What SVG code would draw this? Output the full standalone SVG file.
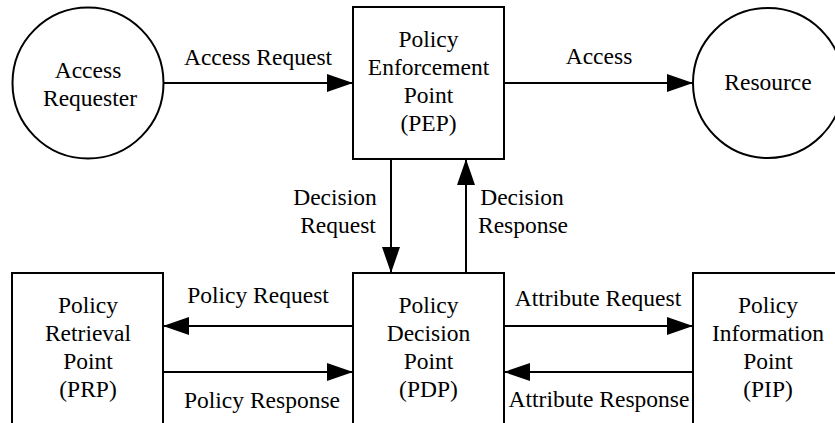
<svg xmlns="http://www.w3.org/2000/svg" width="835" height="423" viewBox="0 0 835 423">
<style>
.n{fill:#fff;stroke:#000;stroke-width:2}
.t{font-size:23.5px;fill:#000;text-anchor:middle}
.c{stroke:#000;stroke-width:2;fill:none;marker-end:url(#ah)}
</style>
<defs>
<marker id="ah" markerUnits="userSpaceOnUse" markerWidth="26" markerHeight="18" refX="26" refY="9" orient="auto">
<path d="M0,0 L26,9 L0,18 z" fill="#000"/>
</marker>
</defs>
<rect width="835" height="423" fill="#fff"/>
<g font-family="Liberation Serif, Tinos, Times New Roman, DejaVu Serif, serif">
<g id="connectors">
<line class="c" x1="163" y1="83" x2="353" y2="83"/>
<line class="c" x1="504" y1="83" x2="693" y2="83"/>
<line class="c" x1="391" y1="159" x2="391" y2="273"/>
<line class="c" x1="466" y1="273" x2="466" y2="159"/>
<line class="c" x1="353" y1="326" x2="163" y2="326"/>
<line class="c" x1="163" y1="372" x2="353" y2="372"/>
<line class="c" x1="504" y1="326" x2="693" y2="326"/>
<line class="c" x1="693" y1="372" x2="504" y2="372"/>
<text class="t" x="258" y="65">Access Request</text>
<text class="t" x="599" y="64">Access</text>
<text class="t" x="335" y="205">Decision</text>
<text class="t" x="338" y="233">Request</text>
<text class="t" x="522" y="205">Decision</text>
<text class="t" x="523" y="233">Response</text>
<text class="t" x="258" y="303">Policy Request</text>
<text class="t" x="262" y="408">Policy Response</text>
<text class="t" x="598" y="306">Attribute Request</text>
<text class="t" x="599" y="407">Attribute Response</text>
</g>
<g id="access-requester">
<circle class="n" cx="88" cy="83" r="75.5"/>
<text class="t" x="88" y="78">Access</text>
<text class="t" x="90" y="106">Requester</text>
</g>
<g id="pep">
<rect class="n" x="353" y="7" width="151" height="152"/>
<text class="t" x="428.5" y="47">Policy</text>
<text class="t" x="428.5" y="75">Enforcement</text>
<text class="t" x="428.5" y="103">Point</text>
<text class="t" x="428.5" y="131">(PEP)</text>
</g>
<g id="resource">
<circle class="n" cx="768" cy="83" r="75"/>
<text class="t" x="768" y="90">Resource</text>
</g>
<g id="prp">
<rect class="n" x="12" y="273" width="151" height="170"/>
<text class="t" x="88" y="313">Policy</text>
<text class="t" x="88" y="341">Retrieval</text>
<text class="t" x="88" y="369">Point</text>
<text class="t" x="88" y="397">(PRP)</text>
</g>
<g id="pdp">
<rect class="n" x="353" y="273" width="151" height="170"/>
<text class="t" x="428.5" y="313">Policy</text>
<text class="t" x="428.5" y="341">Decision</text>
<text class="t" x="428.5" y="369">Point</text>
<text class="t" x="428.5" y="397">(PDP)</text>
</g>
<g id="pip">
<rect class="n" x="693" y="273" width="151" height="170"/>
<text class="t" x="768" y="313">Policy</text>
<text class="t" x="768" y="341">Information</text>
<text class="t" x="768" y="369">Point</text>
<text class="t" x="768" y="397">(PIP)</text>
</g>
</g>
</svg>
